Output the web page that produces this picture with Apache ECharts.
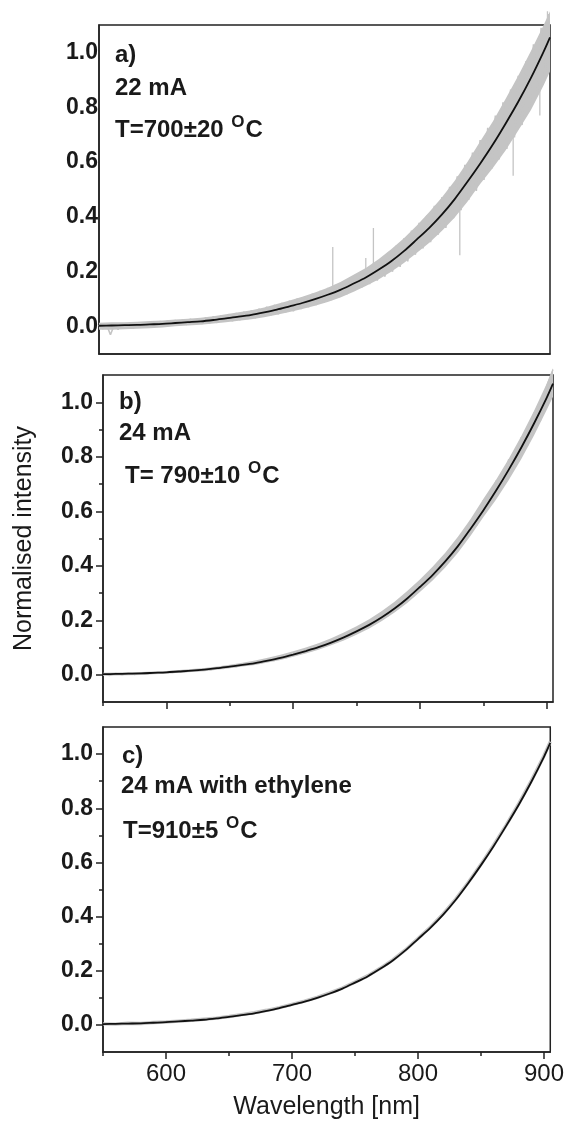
<!DOCTYPE html>
<html>
<head>
<meta charset="utf-8">
<script src="https://cdn.jsdelivr.net/npm/echarts@6/dist/echarts.min.js"></script>
<style>
html, body { margin: 0; padding: 0; background: #fff; }
#chart { width: 567px; height: 1122px; }
</style>
</head>
<body>
<div id="chart"></div>
<script>
// tick values
const xTicks = [600, 700, 800, 900];
const xMinorTicks = [550, 650, 750, 850];
const yTicks = [0, 0.2, 0.4, 0.6, 0.8, 1.0];
const yMinorTicks = [0.1, 0.3, 0.5, 0.7, 0.9];

// wavelengths of the fitted curves and noise envelopes
const fitWl = [550, 560, 570, 580, 590, 600, 610, 620, 630, 640, 650, 660, 670, 680, 690, 700,
  710, 720, 730, 740, 750, 760, 770, 780, 790, 800, 810, 820, 830, 840, 850, 860, 870, 880, 890, 900, 905];

// fitted (black) curves
const fitA = [.003, .004, .005, .006, .008, .010, .013, .016, .019, .024, .030, .036, .043, .052, .062, .074,
  .086, .100, .116, .134, .156, .179, .207, .238, .275, .317, .360, .409, .465, .528, .594, .664, .740, .820, .907, 1.003, 1.055];
const fitB = [.002, .003, .004, .005, .007, .009, .012, .015, .019, .024, .030, .036, .043, .052, .062, .074,
  .087, .101, .118, .137, .159, .183, .211, .243, .280, .322, .366, .416, .472, .536, .603, .675, .752, .834, .922, 1.016, 1.068];
const fitC = [.003, .004, .005, .006, .008, .010, .013, .016, .019, .024, .030, .036, .043, .052, .062, .074,
  .086, .100, .116, .134, .156, .179, .207, .238, .275, .317, .359, .407, .462, .524, .590, .660, .735, .813, .898, .990, 1.041];

// grey noise envelopes of the measured spectra
const lowA = [-.012, -.012, -.010, -.008, -.006, -.003, .001, .004, .007, .011, .016, .021, .027, .034, .043, .053,
  .064, .076, .090, .106, .126, .148, .172, .200, .232, .268, .306, .350, .398, .455, .520, .578, .642, .715, .790, .880, .930];
const highA = [.014, .016, .016, .018, .020, .022, .026, .029, .032, .038, .045, .052, .060, .070, .082, .095,
  .109, .124, .142, .163, .188, .214, .246, .282, .322, .368, .418, .472, .532, .600, .675, .748, .830, .915, 1.005, 1.100, 1.150];
const lowB = [-.004, -.003, -.002, -.001, .002, .004, .007, .010, .013, .018, .024, .030, .036, .045, .054, .066,
  .078, .092, .108, .126, .147, .170, .197, .228, .263, .304, .346, .394, .448, .510, .578, .642, .714, .792, .878, .972, 1.020];
const highB = [.007, .008, .009, .010, .012, .014, .017, .021, .025, .030, .037, .044, .052, .062, .073, .086,
  .100, .116, .134, .155, .178, .204, .234, .268, .307, .350, .396, .448, .506, .572, .645, .715, .792, .876, .968, 1.068, 1.125];

// measured spectra (grey), a) sampled every 3 nm from 550, b) every 5 nm from 550
const specA = [
  .006, -.009, .007, -.030, .006, -.011, .011, -.005, .012, -.007,
  .014, -.003, .015, -.002, .017, .000, .019, .002, .021, .004,
  .023, .005, .026, .007, .028, .008, .030, .010, .033, .012,
  .037, .014, .041, .018, .045, .020, .049, .024, .054, .028,
  .059, .031, .065, .036, .072, .040, .079, .045, .086, .052,
  .094, .056, .102, .064, .110, .071, .120, .079, .130, .088,
  .141, .097, .152, .108, .165, .118, .180, .130, .195, .143,
  .212, .155, .230, .168, .250, .182, .272, .200, .295, .218,
  .322, .238, .350, .262, .378, .285, .405, .308, .440, .335,
  .472, .360, .510, .395, .548, .425, .590, .462, .635, .495,
  .680, .535, .725, .575, .770, .610, .818, .648, .865, .690,
  .915, .735, .968, .790, 1.030, .850, 1.090, .900, 1.140];
// spikes in a): [nm, from, to]
const spikesA = [[734, .12, .29], [760, .18, .25], [766, .19, .36], [834, .49, .26],
  [876, .78, .55], [897, .97, .77], [903, 1.03, 1.15]];
const specB = [
  .004, -.003, .005, .000, .006, .001, .007, .003, .009, .005,
  .011, .008, .014, .011, .017, .014, .021, .018, .026, .023,
  .032, .029, .039, .036, .046, .044, .056, .052, .066, .063,
  .079, .075, .092, .089, .107, .104, .125, .121, .145, .141,
  .168, .163, .194, .188, .223, .216, .256, .250, .294, .287,
  .338, .330, .384, .376, .436, .430, .495, .488, .565, .548,
  .640, .618, .712, .688, .790, .762, .872, .842, .962, .930,
  1.060, 1.120];
const specC = [.004, .003, .006, .005, .009, .011, .014, .017, .021, .025, .031, .038, .045, .054, .064, .076,
  .088, .102, .118, .136, .158, .181, .209, .240, .277, .319, .362, .410, .465, .527, .593, .664, .738, .817, .902, .994, 1.046];

const labelsA = ['a)', '22 mA', 'T=700\u00b120 {sup|O}C'];
const labelsB = ['b)', '24 mA', 'T= 790\u00b110 {sup|O}C'];
const labelsC = ['c)', '24 mA with ethylene', 'T=910\u00b15 {sup|O}C'];

const FONT = '"Liberation Sans", Arial, sans-serif';
const INK = '#1a1a1a';
const GREY = '#c4c4c4';

function pairs(xs, ys) {
  return ys.map((v, i) => [xs[i], v]);
}
function sampled(start, step, ys) {
  return ys.map((v, i) => [start + i * step, v]);
}

const axisLineOn = { show: true, onZero: false, lineStyle: { color: '#222', width: 1.5 } };
const axisLineOff = { show: false, onZero: false };

function xAxis(grid, opts) {
  return Object.assign({
    type: 'value', gridIndex: grid, min: 550, max: 905, position: 'bottom',
    axisLine: axisLineOn,
    splitLine: { show: false },
    axisTick: { show: false },
    axisLabel: { show: false }
  }, opts);
}
function yAxis(grid, opts) {
  return Object.assign({
    type: 'value', gridIndex: grid, min: -0.1, max: 1.1, position: 'left',
    axisLine: axisLineOn,
    splitLine: { show: false },
    axisTick: { show: false },
    axisLabel: { show: false }
  }, opts);
}
const yLabel = {
  show: true, customValues: yTicks, margin: 10,
  formatter: v => v.toFixed(1),
  color: INK, fontFamily: FONT, fontWeight: 'bold', fontSize: 23
};
const majorTick = (vals) => ({ show: true, customValues: vals, length: 7, lineStyle: { color: '#222', width: 1.5 } });
const minorTick = (vals) => ({ show: true, customValues: vals, length: 4, lineStyle: { color: '#222', width: 1.5 } });

function grey(xi, yi, data, w) {
  return { type: 'line', xAxisIndex: xi, yAxisIndex: yi, data: data, symbol: 'none', clip: false,
    lineStyle: { color: GREY, width: w }, z: 2 };
}
// filled noise band between two envelopes
function band(xi, yi, low, high) {
  return {
    type: 'custom', xAxisIndex: xi, yAxisIndex: yi, clip: false, z: 1,
    data: [[fitWl[0], low[0]]],
    renderItem: (params, api) => {
      const pts = [];
      fitWl.forEach((w, i) => pts.push(api.coord([w, high[i]])));
      for (let i = fitWl.length - 1; i >= 0; i--) pts.push(api.coord([fitWl[i], low[i]]));
      return { type: 'polygon', shape: { points: pts }, style: { fill: GREY } };
    }
  };
}
function fit(xi, yi, ys) {
  return { type: 'line', xAxisIndex: xi, yAxisIndex: yi, data: pairs(fitWl, ys), symbol: 'none', smooth: 0.3,
    lineStyle: { color: '#111', width: 1.8 }, z: 4 };
}

function text(s, x, y) {
  return {
    type: 'text', x: x, y: y, z: 10,
    style: {
      text: s, fill: INK, fontFamily: FONT, fontWeight: 'bold', fontSize: 24, verticalAlign: 'middle',
      rich: { sup: { fill: INK, fontFamily: FONT, fontWeight: 'bold', fontSize: 17, padding: [0, 1, 16, 1] } }
    }
  };
}

const chart = echarts.init(document.getElementById('chart'));

// axis indices: x/y 0 = a), 1 = b), 2 = b) minor ticks, 3 = c), 4 = c) minor ticks
const series = [
  band(0, 0, lowA, highA),
  grey(0, 0, sampled(550, 3, specA), 1.6),
  fit(0, 0, fitA),
  band(1, 1, lowB, highB),
  grey(1, 1, sampled(550, 5, specB), 1.4),
  fit(1, 1, fitB),
  grey(3, 3, pairs(fitWl, specC), 3.4),
  fit(3, 3, fitC)
];
spikesA.forEach(s => {
  series.push({ type: 'line', xAxisIndex: 0, yAxisIndex: 0, data: [[s[0], s[1]], [s[0], s[2]]], symbol: 'none', clip: false,
    lineStyle: { color: GREY, width: 1.3 }, z: 2 });
});

chart.setOption({
  animation: false,
  backgroundColor: '#fff',
  grid: [
    { left: 99, right: 17, top: 25, height: 329, show: true, borderColor: '#222', borderWidth: 1.5 },
    { left: 103, right: 14, top: 375, height: 327, show: true, borderColor: '#222', borderWidth: 1.5 },
    { left: 103, right: 14, top: 727, height: 325, show: true, borderColor: '#222', borderWidth: 1.5 }
  ],
  xAxis: [
    xAxis(0, {}),
    xAxis(1, { axisTick: majorTick(xTicks) }),
    xAxis(1, { axisLine: axisLineOff, axisTick: minorTick(xMinorTicks) }),
    xAxis(2, {
      axisTick: majorTick(xTicks),
      axisLabel: { show: true, customValues: xTicks, margin: 10, color: INK, fontFamily: FONT, fontSize: 24 },
      name: 'Wavelength [nm]', nameLocation: 'middle', nameGap: 43,
      nameTextStyle: { color: INK, fontFamily: FONT, fontSize: 25 }
    }),
    xAxis(2, { axisLine: axisLineOff, axisTick: minorTick(xMinorTicks) })
  ],
  yAxis: [
    yAxis(0, { axisLabel: Object.assign({}, yLabel, { margin: 1 }) }),
    yAxis(1, {
      axisLabel: yLabel, axisTick: majorTick(yTicks),
      name: 'Normalised intensity', nameLocation: 'middle', nameGap: 66, nameRotate: 90,
      nameTextStyle: { color: INK, fontFamily: FONT, fontSize: 25 }
    }),
    yAxis(1, { axisLine: axisLineOff, axisTick: minorTick(yMinorTicks) }),
    yAxis(2, { axisLabel: yLabel, axisTick: majorTick(yTicks) }),
    yAxis(2, { axisLine: axisLineOff, axisTick: minorTick(yMinorTicks) })
  ],
  series: series,
  graphic: [
    text(labelsA[0], 115, 55), text(labelsA[1], 115, 88), text(labelsA[2], 115, 130),
    text(labelsB[0], 119, 402), text(labelsB[1], 119, 433), text(labelsB[2], 125, 476),
    text(labelsC[0], 122, 756), text(labelsC[1], 121, 786), text(labelsC[2], 123, 831)
  ]
});
</script>
</body>
</html>
